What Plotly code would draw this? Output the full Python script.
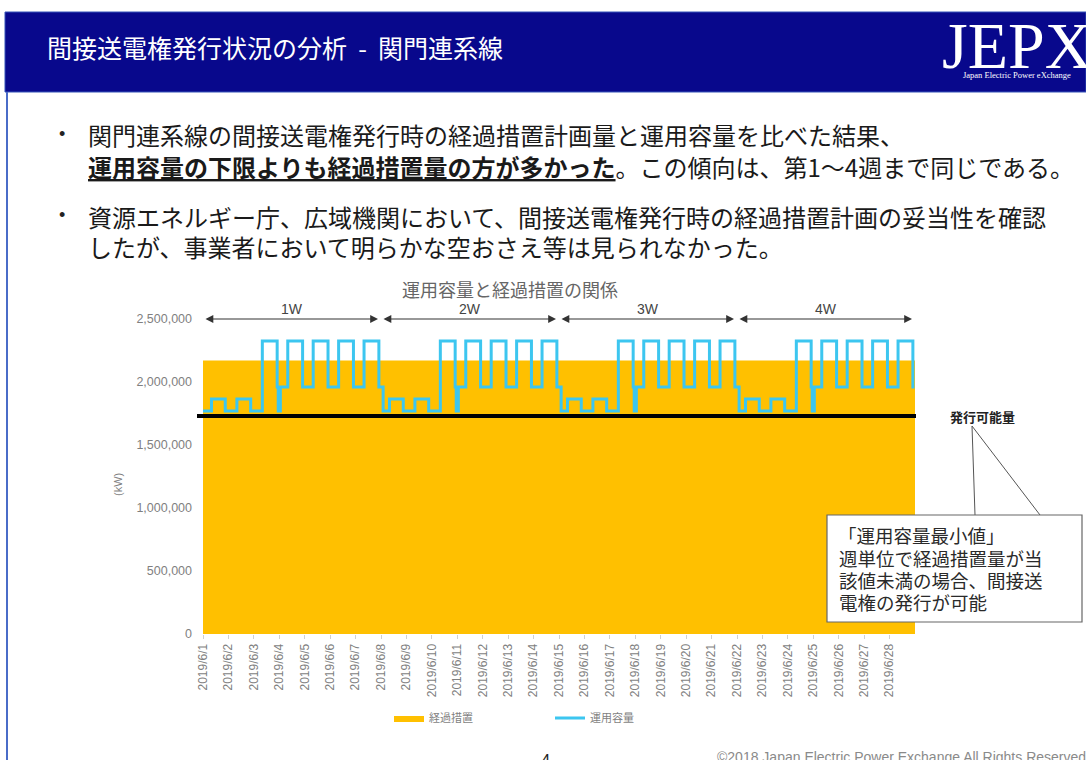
import pandas as pd
import plotly.graph_objects as go

FIG_W, FIG_H = 1086, 760

# ---------------- data ----------------
tick_dates = [
    "2019-06-01", "2019-06-02", "2019-06-03", "2019-06-04", "2019-06-05", "2019-06-06", "2019-06-07",
    "2019-06-08", "2019-06-09", "2019-06-10", "2019-06-11", "2019-06-12", "2019-06-13", "2019-06-14",
    "2019-06-15", "2019-06-16", "2019-06-17", "2019-06-18", "2019-06-19", "2019-06-20", "2019-06-21",
    "2019-06-22", "2019-06-23", "2019-06-24", "2019-06-25", "2019-06-26", "2019-06-27", "2019-06-28",
]
tick_labels = [
    "2019/6/1", "2019/6/2", "2019/6/3", "2019/6/4", "2019/6/5", "2019/6/6", "2019/6/7",
    "2019/6/8", "2019/6/9", "2019/6/10", "2019/6/11", "2019/6/12", "2019/6/13", "2019/6/14",
    "2019/6/15", "2019/6/16", "2019/6/17", "2019/6/18", "2019/6/19", "2019/6/20", "2019/6/21",
    "2019/6/22", "2019/6/23", "2019/6/24", "2019/6/25", "2019/6/26", "2019/6/27", "2019/6/28",
]
period_end = "2019-06-29"

week_starts = ["2019-06-01", "2019-06-08", "2019-06-15", "2019-06-22"]
week_names = ["1W", "2W", "3W", "4W"]

# 経過措置 (kW, weekly)
transition_kw = [2170000, 2170000, 2170000, 2170000]

# 発行可能量 (kW)
issuable_kw = 1730000

# 運用容量 (kW): value from each listed time until the next one
capacity_time = [
    # 1W
    "2019-06-01 00:00", "2019-06-01 08:00", "2019-06-01 21:00",
    "2019-06-02 08:00", "2019-06-02 21:00",
    "2019-06-03 08:00", "2019-06-03 22:00", "2019-06-03 23:00",
    "2019-06-04 01:00", "2019-06-04 08:00", "2019-06-04 22:00",
    "2019-06-05 08:00", "2019-06-05 22:00",
    "2019-06-06 08:00", "2019-06-06 22:00",
    "2019-06-07 08:00", "2019-06-07 22:00",
    # 2W
    "2019-06-08 02:00", "2019-06-08 08:00", "2019-06-08 21:00",
    "2019-06-09 08:00", "2019-06-09 21:00",
    "2019-06-10 08:00", "2019-06-10 22:00", "2019-06-10 23:00",
    "2019-06-11 01:00", "2019-06-11 08:00", "2019-06-11 22:00",
    "2019-06-12 08:00", "2019-06-12 22:00",
    "2019-06-13 08:00", "2019-06-13 22:00",
    "2019-06-14 08:00", "2019-06-14 22:00",
    # 3W
    "2019-06-15 02:00", "2019-06-15 08:00", "2019-06-15 21:00",
    "2019-06-16 08:00", "2019-06-16 21:00",
    "2019-06-17 08:00", "2019-06-17 22:00", "2019-06-17 23:00",
    "2019-06-18 01:00", "2019-06-18 08:00", "2019-06-18 22:00",
    "2019-06-19 08:00", "2019-06-19 22:00",
    "2019-06-20 08:00", "2019-06-20 22:00",
    "2019-06-21 08:00", "2019-06-21 22:00",
    # 4W
    "2019-06-22 02:00", "2019-06-22 08:00", "2019-06-22 21:00",
    "2019-06-23 08:00", "2019-06-23 21:00",
    "2019-06-24 08:00", "2019-06-24 22:00", "2019-06-24 23:00",
    "2019-06-25 01:00", "2019-06-25 08:00", "2019-06-25 22:00",
    "2019-06-26 08:00", "2019-06-26 22:00",
    "2019-06-27 08:00", "2019-06-27 22:00",
    "2019-06-28 08:00", "2019-06-28 22:00", "2019-06-28 23:30",
]
capacity_kw = [
    # 1W
    1770000, 1865000, 1770000,
    1865000, 1770000,
    2325000, 1960000, 1770000,
    1960000, 2325000, 1960000,
    2325000, 1960000,
    2325000, 1960000,
    2325000, 1960000,
    # 2W
    1770000, 1865000, 1770000,
    1865000, 1770000,
    2325000, 1960000, 1770000,
    1960000, 2325000, 1960000,
    2325000, 1960000,
    2325000, 1960000,
    2325000, 1960000,
    # 3W
    1770000, 1865000, 1770000,
    1865000, 1770000,
    2325000, 1960000, 1770000,
    1960000, 2325000, 1960000,
    2325000, 1960000,
    2325000, 1960000,
    2325000, 1960000,
    # 4W
    1770000, 1865000, 1770000,
    1865000, 1770000,
    2325000, 1960000, 1770000,
    1960000, 2325000, 1960000,
    2325000, 1960000,
    2325000, 1960000,
    2325000, 1960000, 1960000,
]

y_ticks = [0, 500000, 1000000, 1500000, 2000000, 2500000]
y_max = 2500000

# ---------------- page text ----------------
page_title = "間接送電権発行状況の分析  -  関門連系線"
chart_title = "運用容量と経過措置の関係"
bullet_lines = [
    "関門連系線の間接送電権発行時の経過措置計画量と運用容量を比べた結果、",
    "<b><u>運用容量の下限よりも経過措置量の方が多かった</u></b>。この傾向は、第1～4週まで同じである。",
    "資源エネルギー庁、広域機関において、間接送電権発行時の経過措置計画の妥当性を確認",
    "したが、事業者において明らかな空おさえ等は見られなかった。",
]
callout_lines = [
    "「運用容量最小値」",
    "週単位で経過措置量が当",
    "該値未満の場合、間接送",
    "電権の発行が可能",
]

JP = "Noto Sans CJK JP, sans-serif"
LAT = "Liberation Sans, Arial, sans-serif"
GREY = "#7f7f7f"


def px(x):
    """page x pixel -> paper fraction"""
    return x / FIG_W


def py(y):
    """page y pixel (from top) -> paper fraction"""
    return 1 - y / FIG_H


PLOT_L, PLOT_R, PLOT_T, PLOT_B = 203, 915, 319, 634

fig = go.Figure()

# 経過措置: weekly step area
area_x = week_starts + [period_end]
area_y = transition_kw + [transition_kw[-1]]
fig.add_trace(go.Scatter(
    x=area_x, y=area_y, name="経過措置", mode="lines",
    line=dict(shape="hv", width=0, color="#FFC000"),
    fill="tozeroy", fillcolor="#FFC000",
))

# 運用容量: step line
fig.add_trace(go.Scatter(
    x=capacity_time, y=capacity_kw, name="運用容量", mode="lines",
    line=dict(shape="hv", width=3, color="#3CC6F0"),
))

shapes = []
annotations = []

# header bar
shapes.append(dict(type="rect", xref="paper", yref="paper",
                   x0=px(5), x1=px(1086), y0=py(92), y1=py(12),
                   fillcolor="#08088C", line=dict(color="#3452B8", width=1), layer="below"))
# left page border
shapes.append(dict(type="line", xref="paper", yref="paper",
                   x0=px(7), x1=px(7), y0=py(92), y1=py(760),
                   line=dict(color="#4A6CC8", width=2)))

# 発行可能量 line
shapes.append(dict(type="line", xref="paper", yref="y",
                   x0=px(197), x1=px(916), y0=issuable_kw, y1=issuable_kw,
                   line=dict(color="black", width=4), layer="above"))

# callout pointer and box
shapes.append(dict(type="path", xref="paper", yref="paper",
                   path=f"M {px(975)},{py(515)} L {px(972)},{py(426)} L {px(1040)},{py(515)}",
                   line=dict(color="#555555", width=1)))
shapes.append(dict(type="rect", xref="paper", yref="paper",
                   x0=px(827), x1=px(1082), y0=py(622), y1=py(515),
                   fillcolor="white", line=dict(color="#666666", width=1.2)))

# header texts
annotations.append(dict(xref="paper", yref="paper", x=px(45), y=py(47),
                        xanchor="left", yanchor="middle", showarrow=False,
                        text=page_title, font=dict(family=JP, size=25, color="white")))
annotations.append(dict(xref="paper", yref="paper", x=px(940), y=py(46),
                        xanchor="left", yanchor="middle", showarrow=False,
                        text="JEPX", font=dict(family="Liberation Serif, serif", size=66, color="white")))
annotations.append(dict(xref="paper", yref="paper", x=px(961), y=py(75),
                        xanchor="left", yanchor="middle", showarrow=False,
                        text="Japan Electric Power eXchange",
                        font=dict(family="Liberation Serif, serif", size=8.5, color="white")))

# bullet points
for yb in (134, 215):
    annotations.append(dict(xref="paper", yref="paper", x=px(62), y=py(yb),
                            xanchor="center", yanchor="middle", showarrow=False,
                            text="•", font=dict(family=LAT, size=18, color="#222222")))
for line, yl in zip(bullet_lines, (134, 166, 216, 246)):
    annotations.append(dict(xref="paper", yref="paper", x=px(86), y=py(yl),
                            xanchor="left", yanchor="middle", showarrow=False,
                            text=line, font=dict(family=JP, size=24, color="#1a1a1a")))

# chart title
annotations.append(dict(xref="paper", yref="paper", x=px(510), y=py(289),
                        xanchor="center", yanchor="middle", showarrow=False,
                        text=chart_title, font=dict(family=JP, size=18, color="#666666")))

# week spans
for i, (ws, name) in enumerate(zip(week_starts, week_names)):
    we = week_starts[i + 1] if i + 1 < len(week_starts) else period_end
    mid = pd.Timestamp(ws) + (pd.Timestamp(we) - pd.Timestamp(ws)) / 2
    annotations.append(dict(xref="x", yref="y", axref="x", ayref="y",
                            x=we, y=y_max, ax=ws, ay=y_max, text="",
                            showarrow=True, arrowside="end+start",
                            arrowhead=2, startarrowhead=2,
                            arrowsize=1.3, startarrowsize=1.3, arrowwidth=1.2,
                            arrowcolor="#333333", standoff=3, startstandoff=1))
    annotations.append(dict(xref="x", yref="paper", x=mid.strftime("%Y-%m-%d %H:%M"), y=py(309),
                            xanchor="center", yanchor="middle", showarrow=False,
                            text=name, font=dict(family=LAT, size=14, color="#444444")))

# axis unit
annotations.append(dict(xref="paper", yref="paper", x=px(118), y=py(485),
                        xanchor="center", yanchor="middle", showarrow=False, textangle=-90,
                        text="(kW)", font=dict(family=LAT, size=11, color=GREY)))

# label of the threshold line
annotations.append(dict(xref="paper", yref="paper", x=px(982), y=py(416),
                        xanchor="center", yanchor="middle", showarrow=False,
                        text="<b>発行可能量</b>", font=dict(family=JP, size=13, color="#222222")))

# callout text
for line, yl, xl in zip(callout_lines, (535, 558, 580, 602), (836, 837, 837, 837)):
    annotations.append(dict(xref="paper", yref="paper", x=px(xl), y=py(yl),
                            xanchor="left", yanchor="middle", showarrow=False,
                            text=line, font=dict(family=JP, size=18.5, color="#2a2a2a")))

# footer
annotations.append(dict(xref="paper", yref="paper", x=px(715), y=py(757),
                        xanchor="left", yanchor="middle", showarrow=False,
                        text="©2018 Japan Electric Power Exchange All Rights Reserved",
                        font=dict(family=LAT, size=14, color="#8a8a8a")))
annotations.append(dict(xref="paper", yref="paper", x=px(546), y=py(760),
                        xanchor="center", yanchor="middle", showarrow=False,
                        text="-4-", font=dict(family=LAT, size=16, color="#222222")))

fig.update_layout(
    width=FIG_W, height=FIG_H,
    margin=dict(l=0, r=0, t=0, b=0),
    paper_bgcolor="white", plot_bgcolor="rgba(0,0,0,0)",
    template="none",
    showlegend=True,
    legend=dict(orientation="h", x=px(389), y=py(718), xanchor="left", yanchor="middle",
                font=dict(family=JP, size=11, color=GREY),
                entrywidth=116, entrywidthmode="pixels", itemwidth=30,
                bgcolor="rgba(0,0,0,0)"),
    xaxis=dict(
        type="date", domain=[px(PLOT_L), px(PLOT_R)],
        range=[week_starts[0], period_end],
        tickmode="array", tickvals=tick_dates, ticktext=tick_labels,
        tickangle=-90, tickfont=dict(family=LAT, size=12, color=GREY),
        ticks="outside", ticklen=4, tickcolor="#d0d0d0",
        showgrid=False, zeroline=False, showline=False, automargin=False,
    ),
    yaxis=dict(
        domain=[py(PLOT_B), py(PLOT_T)], range=[0, y_max],
        tickmode="array", tickvals=y_ticks, tickformat=",d",
        tickfont=dict(family=LAT, size=12.5, color=GREY),
        ticklabelstandoff=10,
        showgrid=False, zeroline=False, showline=False, automargin=False,
    ),
    shapes=shapes,
    annotations=annotations,
)

fig.write_html("out.html")
